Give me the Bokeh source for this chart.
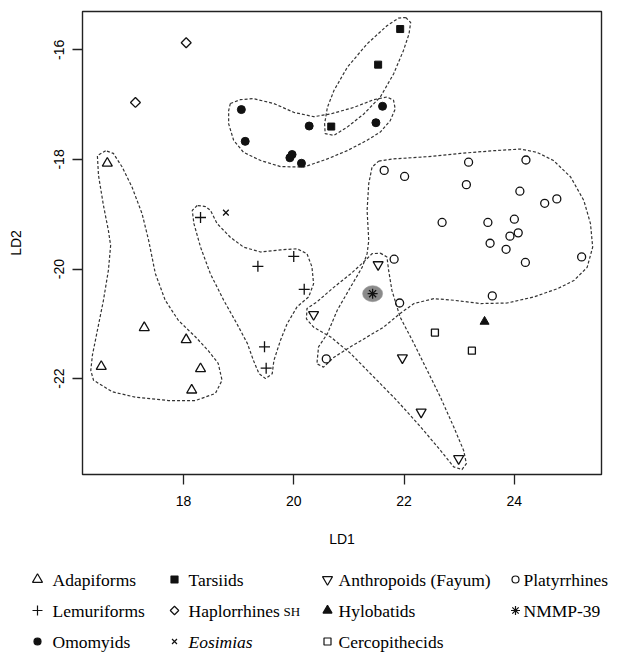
import numpy as np
from bokeh.plotting import figure
from bokeh.layouts import column
from bokeh.models import Range1d, FixedTicker
from bokeh.core.properties import value
from bokeh.embed import file_html
from bokeh.resources import INLINE

# ---------------- data (LD1, LD2) ----------------
adapi_x = [16.62, 17.29, 18.05, 16.51, 18.31, 18.15]
adapi_y = [-18.07, -21.07, -21.29, -21.78, -21.82, -22.21]

lemur_x = [18.31, 20.00, 19.35, 20.19, 19.47, 19.50]
lemur_y = [-19.06, -19.77, -19.95, -20.37, -21.42, -21.81]

omomy_x = [19.05, 19.12, 20.28, 19.93, 19.97, 20.14, 21.61, 21.49]
omomy_y = [-17.09, -17.67, -17.39, -17.97, -17.91, -18.07, -17.03, -17.33]

tarsi_x = [21.93, 21.53, 20.68]
tarsi_y = [-15.62, -16.27, -17.40]

haplo_x = [18.05, 17.13]
haplo_y = [-15.87, -16.96]

eosim_x = [18.77]
eosim_y = [-18.97]

anthr_x = [21.53, 20.36, 21.97, 22.31, 22.99]
anthr_y = [-19.92, -20.83, -21.62, -22.61, -23.46]

hylob_x = [23.46]
hylob_y = [-20.96]

cerco_x = [22.56, 23.23]
cerco_y = [-21.16, -21.49]

platy_x = [21.64, 22.01, 23.17, 24.21, 23.13, 24.10, 24.55, 24.77, 22.69, 23.52,
           24.00, 23.92, 24.07, 23.56, 23.85, 24.20, 25.22, 21.82, 21.92, 23.60, 20.59]
platy_y = [-18.20, -18.31, -18.05, -18.01, -18.46, -18.58, -18.80, -18.72, -19.15, -19.15,
           -19.09, -19.40, -19.34, -19.53, -19.64, -19.88, -19.78, -19.82, -20.62, -20.49, -21.64]

nmmp_x = [21.43]
nmmp_y = [-20.45]

# group outlines (dashed envelopes), in LD1/LD2 units
adapi_hull_x = [16.59, 16.44, 16.46, 16.55, 16.64, 16.68, 16.64, 16.55, 16.44, 16.35, 16.32, 16.37,
                16.71, 17.13, 17.73, 18.22, 18.58, 18.70, 18.63, 18.45, 18.22, 17.91, 17.67,
                17.49, 17.37, 17.25, 17.07, 16.89, 16.73]
adapi_hull_y = [-17.84, -17.93, -18.29, -18.84, -19.30, -19.57, -20.02, -20.57, -21.12, -21.57, -21.85, -22.03,
                -22.24, -22.34, -22.40, -22.40, -22.27, -22.03, -21.72, -21.49, -21.24, -20.94, -20.57,
                -20.08, -19.48, -18.99, -18.51, -18.14, -17.89]

lemur_hull_x = [18.25, 18.16, 18.19, 18.31, 18.49, 18.73, 18.97, 19.16, 19.27, 19.37, 19.49, 19.61,
                19.64, 19.76, 19.88, 20.06, 20.27, 20.36, 20.33, 20.24, 20.06, 19.76, 19.40,
                19.09, 18.85, 18.61, 18.49, 18.40]
lemur_hull_y = [-18.84, -18.93, -19.17, -19.60, -20.09, -20.57, -21.00, -21.36, -21.67, -21.91, -22.00, -21.91,
                -21.67, -21.30, -21.00, -20.69, -20.51, -20.27, -19.96, -19.72, -19.63, -19.65, -19.69,
                -19.60, -19.42, -19.17, -18.93, -18.86]

omomy_hull_x = [18.85, 19.03, 19.27, 19.64, 20.00, 20.36, 20.67, 21.09, 21.45, 21.69, 21.81, 21.84,
                21.75, 21.57, 21.33, 20.97, 20.61, 20.18, 19.76, 19.40, 19.09, 18.91, 18.82, 18.82]
omomy_hull_y = [-16.98, -16.91, -16.89, -16.98, -17.14, -17.22, -17.17, -17.05, -16.91, -16.86, -16.92, -17.08,
                -17.29, -17.50, -17.65, -17.84, -17.99, -18.14, -18.13, -18.02, -17.87, -17.65, -17.35, -17.11]

tarsi_hull_x = [22.03, 22.12, 22.09, 21.99, 21.81, 21.57, 21.27, 20.97, 20.73, 20.57, 20.56, 20.61,
                20.73, 20.97, 21.33, 21.69, 21.90]
tarsi_hull_y = [-15.41, -15.50, -15.71, -16.01, -16.44, -16.86, -17.17, -17.41, -17.56, -17.53, -17.35, -17.05,
                -16.74, -16.32, -15.89, -15.56, -15.42]

platy_hull_x = [21.54, 21.81, 22.42, 23.02, 23.63, 24.11, 24.41, 24.71, 25.02, 25.26, 25.38, 25.42,
                25.32, 25.08, 24.78, 24.35, 23.87, 23.39, 22.90, 22.54, 22.18, 21.93, 21.63,
                21.33, 21.03, 20.73, 20.54, 20.42, 20.45, 20.61, 20.79, 21.03, 21.24, 21.33,
                21.36, 21.33, 21.36, 21.42]
platy_hull_y = [-18.03, -17.99, -17.95, -17.89, -17.84, -17.81, -17.87, -18.02, -18.32, -18.75, -19.17, -19.60,
                -19.97, -20.21, -20.36, -20.51, -20.62, -20.63, -20.57, -20.54, -20.63, -20.81, -21.06,
                -21.24, -21.42, -21.61, -21.79, -21.73, -21.42, -21.18, -20.75, -20.33, -19.97, -19.72,
                -19.48, -18.93, -18.44, -18.14]

anthr_hull_x = [21.57, 21.69, 21.72, 21.78, 21.93, 22.18, 22.42, 22.66, 22.90, 23.08, 23.13, 23.05,
                22.90, 22.66, 22.30, 21.87, 21.45, 21.03, 20.67, 20.36, 20.23, 20.24, 20.42,
                20.73, 21.03, 21.27, 21.42]
anthr_hull_y = [-19.71, -19.78, -20.02, -20.39, -20.88, -21.36, -21.85, -22.34, -22.88, -23.31, -23.55, -23.66,
                -23.61, -23.31, -22.88, -22.40, -21.97, -21.54, -21.24, -21.06, -20.91, -20.72, -20.60,
                -20.33, -20.09, -19.87, -19.72]

x_ticks = [18, 20, 22, 24]
y_ticks = [-22, -20, -18, -16]

legend_cols = [
    ["Adapiforms", "Lemuriforms", "Omomyids"],
    ["Tarsiids", "Haplorrhines", "Eosimias"],
    ["Anthropoids (Fayum)", "Hylobatids", "Cercopithecids"],
    ["Platyrrhines", "NMMP-39"],
]

# ---------------- main plot ----------------
W = 617
p = figure(width=W, height=560,
           x_range=Range1d(16.17, 25.58), y_range=Range1d(-23.75, -15.30),
           output_backend="svg", toolbar_location=None,
           min_border_left=82, min_border_right=16, min_border_top=11, min_border_bottom=86)
p.xgrid.visible = False
p.ygrid.visible = False
p.outline_line_color = "#222222"
p.outline_line_width = 1.4
p.background_fill_color = "white"
p.border_fill_color = "white"

for ax, ticks in ((p.xaxis, x_ticks), (p.yaxis, y_ticks)):
    ax.ticker = FixedTicker(ticks=ticks)
    ax.major_label_overrides = {t: str(t) for t in ticks}
    ax.axis_line_color = None
    ax.major_tick_out = 10
    ax.major_tick_in = 0
    ax.major_tick_line_color = "#222222"
    ax.major_tick_line_width = 1.3
    ax.minor_tick_line_color = None
    ax.major_label_text_font = "Liberation Sans"
    ax.major_label_text_font_size = "14px"
    ax.major_label_text_color = "black"
    ax.axis_label_text_font = "Liberation Sans"
    ax.axis_label_text_font_size = "14px"
    ax.axis_label_text_font_style = "normal"
    ax.axis_label_text_color = "black"

p.xaxis.axis_label = "LD1"
p.yaxis.axis_label = "LD2"
p.xaxis.major_label_standoff = 11
p.xaxis.axis_label_standoff = 22
p.yaxis.major_label_orientation = "vertical"
p.yaxis.major_label_standoff = 8
p.yaxis.axis_label_standoff = 28

# dashed envelopes
hulls = [(adapi_hull_x, adapi_hull_y), (lemur_hull_x, lemur_hull_y),
         (omomy_hull_x, omomy_hull_y), (tarsi_hull_x, tarsi_hull_y),
         (platy_hull_x, platy_hull_y), (anthr_hull_x, anthr_hull_y)]
p.multi_line([hx + hx[:1] for hx, hy in hulls], [hy + hy[:1] for hx, hy in hulls],
             line_color="#333333", line_width=1.2, line_dash="3 2")

LW = 1.3
INK = "#111111"
p.scatter(adapi_x, adapi_y, marker="triangle", size=10, line_color=INK, fill_alpha=0, line_width=LW)
p.scatter(lemur_x, lemur_y, marker="cross", size=11, line_color=INK, line_width=LW)
p.scatter(omomy_x, omomy_y, marker="circle", size=8, line_color=INK, fill_color=INK)
p.scatter(tarsi_x, tarsi_y, marker="square", size=7, line_color=INK, fill_color=INK)
p.scatter(haplo_x, haplo_y, marker="square", angle=np.pi / 4, size=7, line_color=INK, fill_alpha=0, line_width=LW)
p.scatter(eosim_x, eosim_y, marker="x", size=8, line_color=INK, line_width=LW)
p.scatter(anthr_x, anthr_y, marker="inverted_triangle", size=10, line_color=INK, fill_alpha=0, line_width=LW)
p.scatter(hylob_x, hylob_y, marker="triangle", size=9, line_color=INK, fill_color=INK)
p.scatter(cerco_x, cerco_y, marker="square", size=7, line_color=INK, fill_alpha=0, line_width=LW)
p.scatter(platy_x, platy_y, marker="circle", size=8, line_color=INK, fill_alpha=0, line_width=LW)
p.ellipse(nmmp_x, nmmp_y, width=20, height=16, width_units="screen", height_units="screen",
          fill_color="#8a8a8a", line_color="#9a9a9a", line_alpha=0.6)
p.scatter(nmmp_x, nmmp_y, marker="asterisk", size=10, line_color=INK, line_width=1.3)

# ---------------- legend strip ----------------
LH = 92
leg = figure(width=W, height=LH, x_range=Range1d(0, W), y_range=Range1d(LH, 0),
             output_backend="svg", toolbar_location=None,
             x_axis_type=None, y_axis_type=None,
             min_border_left=0, min_border_right=0, min_border_top=0, min_border_bottom=0)
leg.xgrid.visible = False
leg.ygrid.visible = False
leg.outline_line_color = None
try:
    p.frame_align = False
    leg.frame_align = False
except Exception:
    pass

sym_x = [37, 174, 327, 515]
txt_x = [52, 188, 338, 523]
row_y = [19, 50, 81]
markers = [
    [("triangle", 0, False, 10), ("cross", 0, False, 10), ("circle", 0, True, 7)],
    [("square", 0, True, 7), ("square", np.pi / 4, False, 6), ("x", 0, False, 7)],
    [("inverted_triangle", 0, False, 10), ("triangle", 0, True, 9), ("square", 0, False, 7)],
    [("circle", 0, False, 7), ("asterisk", 0, False, 9)],
]
SERIF = value("Liberation Serif")
for ci, col in enumerate(legend_cols):
    for ri, name in enumerate(col):
        mk, ang, filled, sz = markers[ci][ri]
        leg.scatter([sym_x[ci]], [row_y[ri]], marker=mk, angle=ang, size=sz,
                    line_color=INK, line_width=1.2,
                    fill_color=INK if filled else None, fill_alpha=1 if filled else 0)
        leg.text([txt_x[ci]], [row_y[ri]], text=[name], text_font=SERIF,
                 text_font_size="17.5px", text_baseline="middle", text_align="left",
                 text_color="black",
                 text_font_style="italic" if name == "Eosimias" else "normal")
leg.text([283], [row_y[1] + 1], text=["SH"], text_font=SERIF, text_font_size="13px",
         text_baseline="middle", text_align="left", text_color="black")

layout = column(p, leg, spacing=0)
open("out.html", "w").write(file_html(layout, INLINE))
